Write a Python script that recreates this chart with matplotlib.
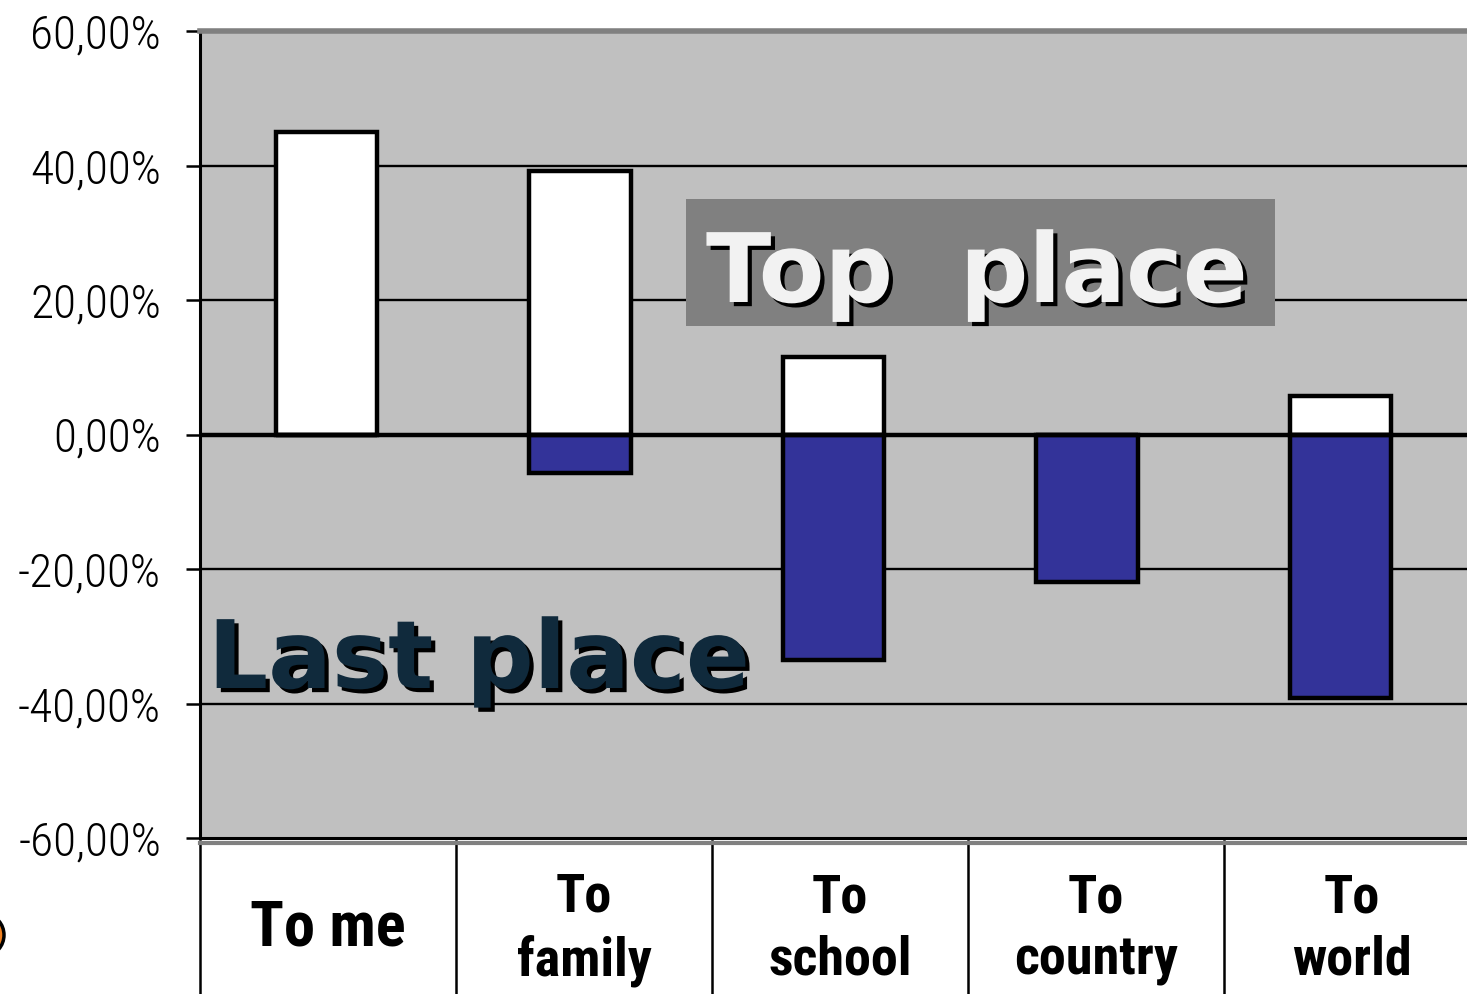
import matplotlib
matplotlib.use("Agg")
import matplotlib.pyplot as plt
import matplotlib.patheffects as pe
from matplotlib.patches import Rectangle, Ellipse
from matplotlib.ticker import FixedLocator, FuncFormatter
import numpy as np

categories = ["To me", "To\nfamily", "To\nschool", "To\ncountry", "To\nworld"]
top_place = [45.0, 39.2, 11.5, 0.0, 5.7]
last_place = [0.0, -5.7, -33.6, -22.0, -39.2]
y_ticks = [-60, -40, -20, 0, 20, 40, 60]

NARROW = ["Liberation Sans Narrow", "Arial Narrow", "Arimo Narrow", "Roboto Condensed",
          "Archivo Narrow", "PT Sans Narrow", "Sofia Sans Condensed", "DejaVu Sans"]

W, H = 1467, 994
fig = plt.figure(figsize=(W / 100, H / 100), dpi=100)
ax = fig.add_axes([200 / W, (H - 838) / H, 1267 / W, (838 - 31) / H])
ax.set_facecolor("#c0c0c0")

x = np.arange(len(categories))
ax.bar(x, top_place, width=0.4, color="white", edgecolor="black", linewidth=3.2, zorder=3)
ax.bar(x, last_place, width=0.4, color="#333399", edgecolor="black", linewidth=3.2, zorder=3)

ax.set_xlim(-0.5, len(categories) - 0.5)
ax.set_ylim(-60, 60)
ax.yaxis.set_major_locator(FixedLocator(y_ticks))
ax.yaxis.set_major_formatter(FuncFormatter(lambda v, p: f"{v:.2f}".replace(".", ",") + "%"))
for t in y_ticks:
    if t not in (-60, 60):
        ax.axhline(t, color="black", linewidth=1.7, zorder=1)
ax.axhline(0, color="black", linewidth=3.2, zorder=4)

ax.tick_params(axis="y", direction="out", length=10, width=1.8, pad=18,
               labelsize=34, colors="black")
for lbl in ax.get_yticklabels():
    lbl.set_fontfamily(NARROW)
    lbl.set_fontweight("light")
ax.set_xticks([])

ax.spines["right"].set_visible(False)
ax.spines["top"].set_color("#808080")
ax.spines["top"].set_linewidth(4)
ax.spines["left"].set_color("black")
ax.spines["left"].set_linewidth(2.2)
ax.spines["bottom"].set_color("black")
ax.spines["bottom"].set_linewidth(2.2)

# gray shadow line below the plot area
ax.plot([0, 1], [-0.006, -0.006], transform=ax.transAxes, color="#808080",
        linewidth=3, clip_on=False, zorder=5)

# category data table below the chart (columns slightly wider than categories)
col = 256 / (1267 / len(categories))
tr = ax.get_xaxis_transform()
for k in range(len(categories)):
    xb = -0.5 + k * col
    ax.plot([xb, xb], [-0.004, -0.2], transform=tr, color="black",
            linewidth=1.8, clip_on=False)
for k, c in enumerate(categories):
    two_lines = "\n" in c
    ax.text(-0.5 + (k + 0.5) * col, -0.113 if two_lines else -0.112, c, transform=tr,
            ha="center", va="center", fontsize=39 if two_lines else 45,
            fontweight="bold", family=NARROW, linespacing=1.28, clip_on=False)

shadow = [pe.withSimplePatchShadow(offset=(3, -3), shadow_rgbFace="black", alpha=1.0)]
ax.add_patch(Rectangle((486 / 1267, (838 - 326) / 807), 589 / 1267, 127 / 807,
                       transform=ax.transAxes, facecolor="#808080", edgecolor="none",
                       zorder=5))
ax.text(506 / 1267, (838 - 302) / 807, "Top  place", transform=ax.transAxes,
        ha="left", va="baseline", fontsize=69, fontweight="bold", family="DejaVu Sans",
        color="#f2f2f2", path_effects=shadow, zorder=6)
ax.text(8 / 1267, (838 - 688) / 807, "Last place", transform=ax.transAxes,
        ha="left", va="baseline", fontsize=68, fontweight="bold", family="DejaVu Sans",
        color="#102a3c", path_effects=shadow, zorder=6)

# small orange decoration cut by the left edge
fig.add_artist(Ellipse((-14 / W, (H - 935) / H), 36 / W, 40 / H, transform=fig.transFigure,
                       facecolor="#f08020", edgecolor="black", linewidth=2.5))

fig.savefig("out.png", dpi=100)
